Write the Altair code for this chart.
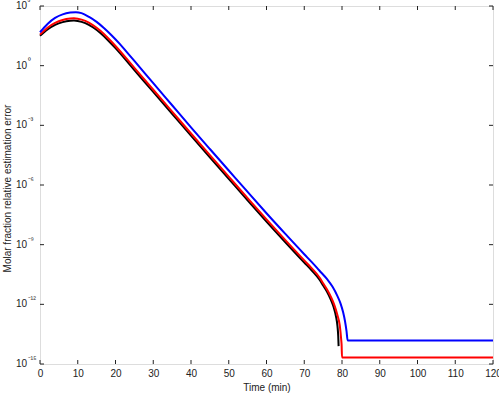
import altair as alt
import pandas as pd

# --- data (exponents of 10) ---
black_t = [0, 2, 4, 6, 8, 9, 10, 12, 14, 16, 18, 20, 25, 30, 35, 40, 45, 50, 55, 60, 65, 70, 72, 74, 75, 76, 77, 77.8, 78.4, 78.8, 79.0, 79.1]
black_e = [1.50, 1.82, 2.05, 2.19, 2.26, 2.27, 2.25, 2.14, 1.93, 1.64, 1.28, 0.88, -0.22, -1.32, -2.42, -3.52, -4.61, -5.69, -6.77, -7.84, -8.88, -9.90, -10.30, -10.75, -11.05, -11.35, -11.75, -12.15, -12.6, -13.1, -13.6, -14.1]

red_t = [0, 2, 4, 6, 8, 9, 10, 12, 14, 16, 18, 20, 25, 30, 35, 40, 45, 50, 55, 60, 65, 70, 72, 74, 75, 76, 77, 78, 78.8, 79.4, 79.8, 79.9, 80.0, 120]
red_e = [1.56, 1.91, 2.15, 2.30, 2.37, 2.38, 2.36, 2.25, 2.04, 1.75, 1.39, 0.99, -0.11, -1.21, -2.31, -3.41, -4.50, -5.58, -6.66, -7.73, -8.77, -9.79, -10.19, -10.64, -10.94, -11.24, -11.6, -12.05, -12.55, -13.05, -13.8, -14.05, -14.67, -14.67]

blue_t = [0, 2, 4, 6, 8, 9.5, 11, 13, 15, 17, 19, 21, 23, 25, 30, 35, 40, 45, 50, 55, 60, 65, 70, 72, 74, 76, 77.5, 78.7, 79.6, 80.3, 80.8, 81.2, 81.5, 120]
blue_e = [1.68, 2.10, 2.40, 2.58, 2.67, 2.69, 2.64, 2.45, 2.20, 1.88, 1.52, 1.12, 0.68, 0.24, -0.88, -1.99, -3.10, -4.19, -5.27, -6.35, -7.42, -8.46, -9.48, -9.88, -10.30, -10.72, -11.12, -11.55, -11.95, -12.4, -12.85, -13.35, -13.82, -13.82]

series_names = ["black", "red", "blue"]
series_colors = ["#000000", "#ff0000", "#0000ff"]

x_ticks = [0, 10, 20, 30, 40, 50, 60, 70, 80, 90, 100, 110, 120]
y_exps = [-15, -12, -9, -6, -3, 0, 3]
sup = {"-": "\u207b", "0": "\u2070", "1": "\u00b9", "2": "\u00b2", "3": "\u00b3", "4": "\u2074",
       "5": "\u2075", "6": "\u2076", "7": "\u2077", "8": "\u2078", "9": "\u2079"}

rows = []
for name, ts, es in [("black", black_t, black_e), ("red", red_t, red_e), ("blue", blue_t, blue_e)]:
    for i, (t, e) in enumerate(zip(ts, es)):
        rows.append({"series": name, "t": t, "v": 10.0 ** e, "i": i})
df = pd.DataFrame(rows)

lab = pd.DataFrame({
    "v": [10.0 ** e for e in y_exps],
    "base": ["10"] * len(y_exps),
    "exp": ["".join(sup[c] for c in str(e)) for e in y_exps],
})
xt = pd.DataFrame({"t": x_ticks})

W, H = 453, 358
FONT = "Liberation Sans"
TC = "#222222"
y_vals = [10.0 ** e for e in y_exps]

xscale = alt.Scale(domain=[0, 120], nice=False)
yscale = alt.Scale(type="log", domain=[1e-15, 1e3], nice=False)

xaxis = alt.Axis(title="Time (min)", values=x_ticks, ticks=False, domain=False, grid=False,
                 labelFont=FONT, labelFontSize=10, labelColor=TC, labelPadding=4, labelFlush=False,
                 labelOverlap=False,
                 titleFont=FONT, titleFontSize=10, titleFontWeight="normal", titleColor=TC,
                 titlePadding=4)
yaxis = alt.Axis(title="Molar fraction relative estimation error", values=y_vals, labels=False,
                 ticks=False, domain=False, grid=False,
                 titleFont=FONT, titleFontSize=10, titleFontWeight="normal", titleColor=TC,
                 titleX=-38, titleY=H / 2 + 3, titleBaseline="top", titleAlign="center")

X = alt.X("t:Q", scale=xscale, axis=xaxis)
Y = alt.Y("v:Q", scale=yscale, axis=yaxis)

lines = alt.Chart(df).mark_line(strokeWidth=2, interpolate="monotone").encode(
    x=X, y=Y,
    color=alt.Color("series:N", scale=alt.Scale(domain=series_names, range=series_colors), legend=None),
    order="i:Q",
)

# inward tick marks on all four sides, positioned through the scales
tick_bottom = alt.Chart(xt).mark_rule(color=TC, strokeWidth=1).encode(
    x=X, y=alt.value(H), y2=alt.value(H - 4))
tick_top = alt.Chart(xt).mark_rule(color=TC, strokeWidth=1).encode(
    x=X, y=alt.value(0), y2=alt.value(4))
tick_left = alt.Chart(lab).mark_rule(color=TC, strokeWidth=1).encode(
    y=Y, x=alt.value(0), x2=alt.value(4))
tick_right = alt.Chart(lab).mark_rule(color=TC, strokeWidth=1).encode(
    y=Y, x=alt.value(W), x2=alt.value(W - 4))

base_txt = alt.Chart(lab).mark_text(align="right", baseline="middle", font=FONT, fontSize=10,
                                    color=TC).encode(
    x=alt.value(-13), y=Y, text="base:N")
exp_txt = alt.Chart(lab).mark_text(align="left", baseline="middle", font=FONT, fontSize=8,
                                   color=TC, dy=-4).encode(
    x=alt.value(-12.5), y=Y, text="exp:N")

chart = alt.layer(lines, tick_bottom, tick_top, tick_left, tick_right, base_txt, exp_txt).properties(
    width=W, height=H,
    autosize=alt.AutoSizeParams(type="none"),
    padding={"left": 40, "top": 6, "right": 6, "bottom": 30},
).configure_view(stroke=TC, strokeWidth=1).configure(background="white")

chart.save("out.html", embed_options={"renderer": "svg", "actions": False})
